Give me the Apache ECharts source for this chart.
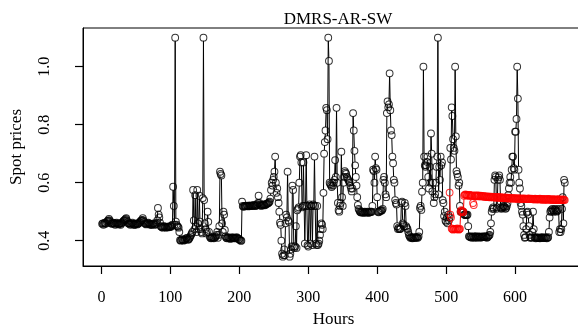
<!DOCTYPE html>
<html><head><meta charset="utf-8">
<script src="https://cdn.jsdelivr.net/npm/echarts@6/dist/echarts.min.js"></script>
<style>html,body{margin:0;padding:0;background:#fff}#c{width:578px;height:324px}</style>
</head><body><div id="c"></div>
<script>
const titleText = "DMRS-AR-SW";
const xName = "Hours";
const yName = "Spot prices";
const xTicks = [0,100,200,300,400,500,600];
const yTicks = [0.4,0.6,0.8,1.0];

// observed hourly spot prices, one array per day (24 h)
const day01=[0.458,0.46,0.455,0.46,0.462,0.458,0.46,0.465,0.468,0.47,0.475,0.47,0.465,0.46,0.458,0.46,0.462,0.46,0.458,0.455,0.46,0.462,0.46,0.458];
const day02=[0.456,0.458,0.46,0.455,0.46,0.462,0.465,0.468,0.47,0.472,0.475,0.478,0.47,0.465,0.46,0.458,0.46,0.455,0.458,0.46,0.462,0.458,0.455,0.456];
const day03=[0.455,0.458,0.46,0.456,0.458,0.46,0.462,0.465,0.468,0.47,0.472,0.478,0.47,0.465,0.46,0.458,0.456,0.458,0.46,0.462,0.46,0.458,0.455,0.456];
const day04=[0.455,0.456,0.458,0.46,0.456,0.455,0.458,0.462,0.47,0.513,0.49,0.48,0.462,0.45,0.448,0.446,0.445,0.448,0.45,0.448,0.446,0.445,0.446,0.448];
const day05=[0.448,0.446,0.447,0.45,0.448,0.452,0.455,0.586,0.52,0.455,1.10,0.466,0.455,0.45,0.448,0.445,0.43,0.402,0.40,0.402,0.405,0.403,0.40,0.402];
const day06=[0.403,0.405,0.408,0.41,0.405,0.403,0.406,0.41,0.415,0.42,0.425,0.43,0.575,0.47,0.44,0.557,0.45,0.43,0.575,0.46,0.44,0.555,0.466,0.44];
const day07=[0.43,0.425,0.547,1.10,0.54,0.46,0.44,0.425,0.43,0.50,0.465,0.43,0.415,0.41,0.408,0.41,0.412,0.41,0.408,0.41,0.412,0.415,0.42,0.43];
const day08=[0.41,0.42,0.45,0.638,0.63,0.625,0.46,0.43,0.50,0.49,0.437,0.415,0.41,0.408,0.41,0.412,0.41,0.408,0.406,0.408,0.41,0.412,0.41,0.408];
const day09=[0.41,0.408,0.41,0.412,0.41,0.408,0.405,0.405,0.402,0.40,0.40,0.535,0.52,0.517,0.518,0.52,0.519,0.52,0.521,0.52,0.518,0.52,0.522,0.52];
const day10=[0.52,0.521,0.52,0.522,0.523,0.52,0.521,0.52,0.522,0.525,0.53,0.555,0.53,0.525,0.522,0.52,0.522,0.524,0.525,0.523,0.522,0.524,0.526,0.528];
const day11=[0.528,0.53,0.532,0.535,0.545,0.575,0.60,0.59,0.61,0.62,0.638,0.69,0.60,0.565,0.58,0.55,0.53,0.50,0.462,0.455,0.40,0.355,0.345,0.35];
const day12=[0.37,0.35,0.46,0.49,0.48,0.638,0.47,0.465,0.345,0.355,0.37,0.38,0.59,0.575,0.38,0.375,0.38,0.45,0.375,0.505,0.51,0.515,0.60,0.69];
const day13=[0.695,0.67,0.515,0.52,0.67,0.52,0.39,0.52,0.695,0.52,0.385,0.38,0.52,0.525,0.39,0.52,0.52,0.385,0.525,0.52,0.69,0.52,0.39,0.385];
const day14=[0.52,0.385,0.39,0.40,0.42,0.44,0.46,0.455,0.44,0.565,0.70,0.74,0.78,0.858,0.85,0.75,1.10,1.02,0.60,0.595,0.59,0.585,0.60,0.59];
const day15=[0.60,0.61,0.678,0.62,0.858,0.60,0.53,0.505,0.50,0.52,0.53,0.707,0.55,0.52,0.60,0.62,0.64,0.635,0.63,0.62,0.615,0.61,0.605,0.60];
const day16=[0.59,0.58,0.57,0.58,0.84,0.78,0.71,0.66,0.62,0.59,0.55,0.523,0.51,0.505,0.50,0.498,0.497,0.50,0.498,0.496,0.497,0.50,0.498,0.497];
const day17=[0.498,0.50,0.497,0.496,0.498,0.50,0.499,0.50,0.52,0.645,0.64,0.60,0.69,0.65,0.645,0.55,0.50,0.498,0.50,0.502,0.505,0.503,0.505,0.51];
const day18=[0.61,0.62,0.60,0.56,0.55,0.84,0.88,0.86,0.87,0.977,0.85,0.78,0.764,0.69,0.667,0.61,0.60,0.54,0.53,0.525,0.45,0.44,0.445,0.44];
const day19=[0.44,0.442,0.53,0.535,0.46,0.455,0.45,0.53,0.52,0.45,0.445,0.44,0.43,0.42,0.415,0.41,0.412,0.41,0.408,0.41,0.412,0.41,0.41,0.412];
const day20=[0.41,0.412,0.41,0.415,0.43,0.513,0.52,0.506,0.569,0.60,1.0,0.69,0.66,0.655,0.66,0.672,0.69,0.62,0.58,0.655,0.60,0.77,0.70,0.57];
const day21=[0.60,0.53,0.55,0.56,0.60,0.655,0.69,1.10,0.56,0.655,0.61,0.69,0.66,0.67,0.54,0.53,0.485,0.50,0.47,0.465,0.48,0.46,0.49,0.47];
const day22=[0.48,0.72,0.68,0.86,0.83,0.75,0.72,0.71,1.0,0.76,0.64,0.63,0.62,0.59,0.60,0.52,0.50,0.50,0.502,0.50,0.498,0.49,0.49,0.488];
const day23=[0.49,0.488,0.49,0.45,0.415,0.414,0.412,0.415,0.41,0.413,0.415,0.412,0.41,0.414,0.416,0.413,0.41,0.412,0.414,0.415,0.413,0.41,0.412,0.414];
const day24=[0.415,0.413,0.412,0.414,0.416,0.413,0.41,0.412,0.415,0.418,0.42,0.43,0.46,0.50,0.51,0.515,0.51,0.61,0.625,0.62,0.51,0.515,0.61,0.618];
const day25=[0.625,0.61,0.515,0.51,0.512,0.515,0.52,0.518,0.515,0.51,0.513,0.52,0.53,0.557,0.58,0.60,0.62,0.60,0.645,0.69,0.69,0.65,0.645,0.776];
const day26=[0.776,0.82,1.0,0.89,0.645,0.60,0.58,0.53,0.52,0.50,0.49,0.45,0.42,0.41,0.412,0.44,0.497,0.50,0.49,0.45,0.42,0.41,0.412,0.41];
const day27=[0.43,0.50,0.44,0.412,0.41,0.408,0.41,0.412,0.41,0.409,0.41,0.408,0.41,0.412,0.41,0.411,0.41,0.409,0.41,0.412,0.41,0.408,0.41,0.412];
const day28=[0.43,0.48,0.50,0.505,0.50,0.51,0.505,0.50,0.505,0.51,0.505,0.50,0.502,0.505,0.51,0.43,0.44,0.43,0.44,0.51,0.55,0.46,0.61,0.60];

// forecast (red), hours 505..672, one array per day
const fcStartHour = 505;
const fc22=[0.566,0.49,0.48,0.442,0.44,0.438,0.44,0.441,0.44,0.439,0.44,0.442,0.44,0.438,0.44,0.441,0.50,0.505,0.502,0.498,0.50,0.555,0.558,0.56];
const fc23=[0.558,0.556,0.557,0.555,0.556,0.558,0.557,0.555,0.554,0.556,0.53,0.523,0.555,0.556,0.554,0.555,0.553,0.556,0.555,0.554,0.552,0.555,0.554,0.553];
const fc24=[0.553,0.552,0.554,0.551,0.552,0.553,0.55,0.552,0.551,0.553,0.55,0.549,0.551,0.552,0.55,0.549,0.551,0.55,0.548,0.55,0.551,0.549,0.548,0.55];
const fc25=[0.549,0.548,0.55,0.547,0.548,0.549,0.547,0.546,0.548,0.549,0.547,0.546,0.548,0.547,0.545,0.547,0.548,0.546,0.545,0.547,0.546,0.545,0.547,0.546];
const fc26=[0.545,0.546,0.544,0.545,0.547,0.545,0.544,0.545,0.546,0.544,0.543,0.545,0.546,0.544,0.543,0.545,0.544,0.543,0.545,0.546,0.544,0.543,0.544,0.545];
const fc27=[0.544,0.543,0.542,0.544,0.545,0.543,0.542,0.544,0.543,0.542,0.544,0.545,0.543,0.542,0.541,0.543,0.544,0.542,0.541,0.543,0.542,0.541,0.543,0.544];
const fc28=[0.542,0.541,0.543,0.542,0.541,0.54,0.542,0.543,0.541,0.54,0.542,0.541,0.54,0.542,0.543,0.541,0.54,0.541,0.542,0.54,0.541,0.542,0.541,0.54];

const observed = [].concat(day01,day02,day03,day04,day05,day06,day07,day08,day09,day10,day11,day12,day13,day14,
  day15,day16,day17,day18,day19,day20,day21,day22,day23,day24,day25,day26,day27,day28);
const forecast = [].concat(fc22,fc23,fc24,fc25,fc26,fc27,fc28);
const obsData = observed.map((v,i)=>[i+1,v]);
const fcData = forecast.map((v,i)=>[fcStartHour+i,v]);
// consecutive pairs -> segments (R type "b": segments stop short of the circles)
const toSegs = d => d.slice(0,-1).map((p,i)=>[p[0],p[1],d[i+1][0],d[i+1][1]]);

const X_MIN = -26.7, X_MAX = 699.9, Y_MIN = 0.3127, Y_MAX = 1.1334;
const R = 3.4; // circle radius in px
function segRenderer(color){
  return function(params, api){
    const a = api.coord([api.value(0), api.value(1)]);
    const b = api.coord([api.value(2), api.value(3)]);
    const dx=b[0]-a[0], dy=b[1]-a[1], d=Math.sqrt(dx*dx+dy*dy);
    if (d <= 2*R + 0.5) return null;
    const ux=dx/d, uy=dy/d;
    return {type:'line',shape:{x1:a[0]+ux*R,y1:a[1]+uy*R,x2:b[0]-ux*R,y2:b[1]-uy*R},
      style:{stroke:color,lineWidth:1}};
  };
}

const serif = '"Liberation Serif","DejaVu Serif",serif';
const chart = echarts.init(document.getElementById('c'), null, {renderer:'canvas'});
chart.setOption({
  animation:false,
  backgroundColor:'#fff',
  title:{text:titleText,left:333,top:6,textAlign:'center',textStyle:{fontFamily:serif,fontSize:17,fontWeight:'normal',color:'#000'}},
  grid:{left:83,top:28,right:-6,bottom:58,outerBoundsMode:'none',
    show:true,borderColor:'#000',borderWidth:1},
  xAxis:{type:'value',min:X_MIN,max:X_MAX,
    name:xName,nameLocation:'middle',nameGap:41,nameTextStyle:{fontFamily:serif,fontSize:17,color:'#000'},
    axisLine:{show:true,onZero:false,lineStyle:{color:'#000',width:1}},splitLine:{show:false},
    axisTick:{show:true,inside:false,length:8,customValues:xTicks,lineStyle:{color:'#000',width:1.2}},
    axisLabel:{customValues:xTicks,hideOverlap:false,margin:24,fontFamily:serif,fontSize:16,color:'#000'}},
  yAxis:{type:'value',min:Y_MIN,max:Y_MAX,
    name:yName,nameLocation:'middle',nameGap:58,nameRotate:90,nameTextStyle:{fontFamily:serif,fontSize:17,color:'#000'},
    axisLine:{show:true,onZero:false,lineStyle:{color:'#000',width:1}},splitLine:{show:false},
    axisTick:{show:true,inside:false,length:8,customValues:yTicks,lineStyle:{color:'#000',width:1.2}},
    axisLabel:{customValues:yTicks,hideOverlap:false,rotate:90,margin:30,fontFamily:serif,fontSize:16,color:'#000',
      formatter:v=>v.toFixed(1)}},
  series:[
    {type:'custom',data:toSegs(obsData),renderItem:segRenderer('#000'),z:2,clip:true},
    {type:'scatter',data:obsData,symbol:'circle',symbolSize:2*R,
     itemStyle:{color:'rgba(0,0,0,0)',borderColor:'#000',borderWidth:1},z:3},
    {type:'custom',data:toSegs(fcData),renderItem:segRenderer('#ff0000'),z:4,clip:true},
    {type:'scatter',data:fcData,symbol:'circle',symbolSize:2*R,
     itemStyle:{color:'rgba(0,0,0,0)',borderColor:'#ff0000',borderWidth:1},z:5}
  ]
});
</script></body></html>
